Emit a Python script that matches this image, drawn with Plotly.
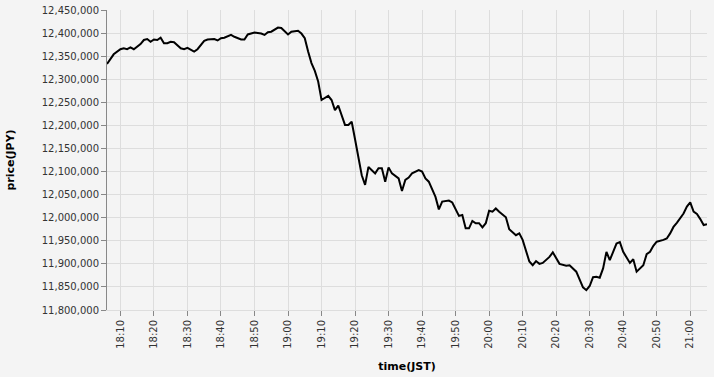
import plotly.graph_objects as go

DAY = "2024-01-01 "

time_labels = [
    "18:06", "18:08",
    "18:10", "18:11", "18:12", "18:13", "18:14", "18:16", "18:17", "18:18", "18:19",
    "18:20", "18:21", "18:22", "18:23", "18:24", "18:25", "18:26", "18:28", "18:29",
    "18:30", "18:31", "18:32", "18:33", "18:35", "18:36", "18:38", "18:39",
    "18:40", "18:41", "18:43", "18:44", "18:46", "18:47", "18:48",
    "18:50", "18:52", "18:53", "18:54", "18:55", "18:57", "18:58",
    "19:00", "19:01", "19:03", "19:04", "19:05", "19:06", "19:07", "19:08", "19:09",
    "19:10", "19:11", "19:12", "19:13", "19:14", "19:15", "19:17", "19:18", "19:19",
    "19:20", "19:22", "19:23", "19:24", "19:26", "19:27", "19:28", "19:29",
    "19:30", "19:31", "19:33", "19:34", "19:35", "19:36", "19:37", "19:39",
    "19:40", "19:41", "19:42", "19:44", "19:45", "19:46", "19:48", "19:49",
    "19:51", "19:52", "19:53", "19:54", "19:55", "19:56", "19:57", "19:58", "19:59",
    "20:00", "20:01", "20:02", "20:03", "20:05", "20:06", "20:08", "20:09",
    "20:10", "20:12", "20:13", "20:14", "20:15", "20:16", "20:18", "20:19",
    "20:20", "20:21", "20:23", "20:24", "20:26", "20:27", "20:28", "20:29",
    "20:30", "20:31", "20:32", "20:33", "20:34", "20:35", "20:36", "20:37", "20:38", "20:39",
    "20:40", "20:42", "20:43", "20:44", "20:45", "20:46", "20:47", "20:48", "20:49",
    "20:50", "20:52", "20:53", "20:54", "20:55", "20:56", "20:58", "20:59",
    "21:00", "21:01", "21:02", "21:03", "21:04", "21:05",
]

prices = [
    12333000, 12354000,
    12365000, 12367000, 12365000, 12369000, 12365000, 12376000, 12385000, 12387000, 12381000,
    12386000, 12385000, 12390000, 12378000, 12378000, 12381000, 12380000, 12367000, 12365000,
    12368000, 12364000, 12360000, 12365000, 12383000, 12386000, 12387000, 12384000,
    12389000, 12390000, 12396000, 12392000, 12386000, 12386000, 12397000,
    12401000, 12399000, 12396000, 12402000, 12403000, 12412000, 12411000,
    12397000, 12403000, 12405000, 12399000, 12389000, 12360000, 12335000, 12318000, 12295000,
    12255000, 12259000, 12264000, 12255000, 12233000, 12243000, 12201000, 12201000, 12208000,
    12170000, 12092000, 12071000, 12110000, 12096000, 12107000, 12107000, 12078000,
    12109000, 12096000, 12085000, 12058000, 12082000, 12087000, 12096000, 12103000,
    12100000, 12085000, 12078000, 12045000, 12018000, 12035000, 12037000, 12033000,
    12004000, 12006000, 11977000, 11977000, 11993000, 11988000, 11988000, 11979000, 11988000,
    12015000, 12013000, 12020000, 12013000, 12001000, 11975000, 11962000, 11966000,
    11952000, 11905000, 11897000, 11906000, 11900000, 11902000, 11915000, 11925000,
    11912000, 11900000, 11896000, 11897000, 11883000, 11866000, 11849000, 11843000,
    11852000, 11871000, 11872000, 11870000, 11890000, 11926000, 11908000, 11926000, 11944000, 11947000,
    11926000, 11902000, 11910000, 11883000, 11889000, 11897000, 11921000, 11926000, 11939000,
    11948000, 11952000, 11955000, 11966000, 11980000, 11989000, 12009000, 12024000,
    12033000, 12013000, 12008000, 11997000, 11984000, 11986000,
]

x_start, x_end = "18:06", "21:05"
y_min, y_max, y_step = 11800000, 12450000, 50000

times = [DAY + t for t in time_labels]

fig = go.Figure(
    go.Scatter(
        x=times,
        y=prices,
        mode="lines",
        line=dict(color="#000000", width=2),
        hoverinfo="x+y",
    )
)

BG = "#f4f4f4"
GRID = "#dddddd"
FONT = "DejaVu Sans"

fig.update_layout(
    width=714,
    height=377,
    margin=dict(l=107, r=7, t=10, b=67),
    paper_bgcolor=BG,
    plot_bgcolor=BG,
    showlegend=False,
    font=dict(family=FONT, size=10, color="#333333"),
)

fig.update_xaxes(
    type="date",
    range=[DAY + x_start, DAY + x_end],
    tick0=DAY + "18:10",
    dtick=600000,
    tickformat="%H:%M",
    tickangle=-90,
    ticks="outside",
    ticklen=5,
    tickcolor="#888888",
    tickfont=dict(family=FONT, size=10, color="#333333"),
    showgrid=True,
    gridcolor=GRID,
    gridwidth=1,
    showline=True,
    linecolor=GRID,
    linewidth=1,
    zeroline=False,
    title=dict(
        text="time(JST)",
        font=dict(family=FONT, size=11, color="#000000", weight="bold"),
        standoff=14,
    ),
    automargin=False,
)

fig.update_yaxes(
    range=[y_min, y_max],
    tick0=y_min,
    dtick=y_step,
    tickformat=",d",
    ticks="outside",
    ticklen=5,
    tickcolor="#888888",
    tickfont=dict(family=FONT, size=10, color="#333333"),
    showgrid=True,
    gridcolor=GRID,
    gridwidth=1,
    showline=True,
    linecolor="#888888",
    linewidth=1,
    zeroline=False,
    title=dict(
        text="price(JPY)",
        font=dict(family=FONT, size=11, color="#000000", weight="bold"),
        standoff=24,
    ),
    automargin=False,
)

fig.write_html("out.html")
